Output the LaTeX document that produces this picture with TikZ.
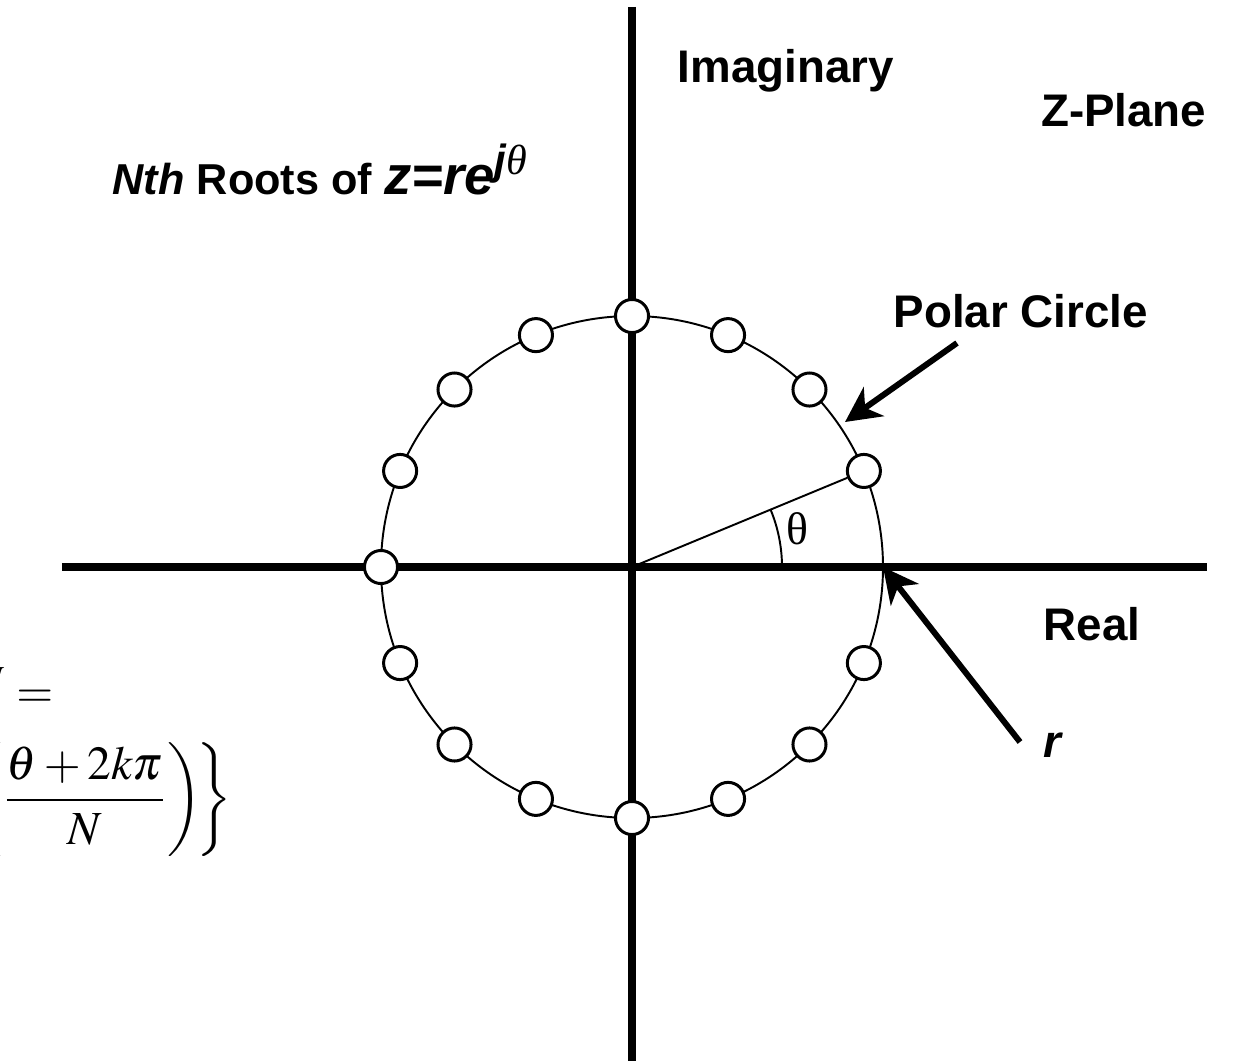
\documentclass[tikz,border=0pt]{standalone}
\usepackage{amsmath}
\usepackage{mathptmx}
\usepackage[no-math]{fontspec}
\setmainfont{Liberation Sans}
\newfontfamily\timesfont{Liberation Serif}
\usepackage{tikz}
\usetikzlibrary{arrows.meta}

\begin{document}
\begin{tikzpicture}[
    x=0.01cm, y=0.01cm,
    axis/.style={line width=2pt},
    thinline/.style={line width=0.55pt},
    root/.style={circle, draw, line width=0.85pt, fill=white, minimum size=9.4pt, inner sep=0pt},
    lbl/.style={font=\fontsize{13}{15}\selectfont\bfseries, inner sep=0pt, #1},
    lbl/.default={anchor=base west},
    callout/.style={-{Stealth[length=10pt,width=10pt,inset=3pt]}, line width=1.7pt},
    formula/.style={font=\fontsize{13.5}{16}\selectfont, inner sep=0pt, anchor=east},
]
\useasboundingbox (-632,-493) rectangle (617,567);

\coordinate (o) at (0,0);
\coordinate (xl) at (-570,0);
\coordinate (xr) at (575,0);
\coordinate (yt) at (0,560);
\coordinate (yb) at (0,-500);

% polar circle and axes
\draw[thinline] (o) circle[radius=251];
\draw[axis] (xl) -- (xr);
\draw[axis] (yt) -- (yb);

% roots
\node[root] (root1) at (22.5:251) {};
\node[root] (root2) at (45:251) {};
\node[root] (root3) at (67.5:251) {};
\node[root] (root4) at (90:251) {};
\node[root] (root5) at (112.5:251) {};
\node[root] (root6) at (135:251) {};
\node[root] (root7) at (157.5:251) {};
\node[root] (root8) at (180:251) {};
\node[root] (root9) at (202.5:251) {};
\node[root] (root10) at (225:251) {};
\node[root] (root11) at (247.5:251) {};
\node[root] (root12) at (270:251) {};
\node[root] (root13) at (292.5:251) {};
\node[root] (root14) at (315:251) {};
\node[root] (root15) at (337.5:251) {};

% angle
\draw[thinline] (o) -- (root1);
\draw[thinline] (150,0) arc[start angle=0, end angle=22.5, radius=150];
\node[font=\fontsize{13}{15}\selectfont\timesfont, inner sep=0pt] (theta) at (165,38) {θ};

% ===== LABELS =====
\node[lbl] (imag) at (45,485) {Imaginary};
\node[lbl={anchor=base east}] (zplane) at (575,441) {Z-Plane};
\node[lbl] (polar) at (261,240) {Polar Circle};
\node[lbl] (real) at (411,-73) {Real};
\node[lbl] (rlbl) at (411,-190) {\itshape r};
\node[lbl={anchor=base west, font=\fontsize{12.3}{15}\selectfont\bfseries}] (title) at (-520,373) {\itshape Nth\upshape{} Roots of {\fontsize{15.5}{18}\selectfont\itshape z=re\textsuperscript{\fontsize{12}{14}\selectfont j{\timesfont\mdseries θ}}}};

\node[formula] (eqtop) at (-578,-121) {$z^{1/N} =$};
\node[formula] (eqbot) at (-399,-233) {$\displaystyle r^{1/N}\exp\left\{j\left(\frac{\theta+2k\pi}{N}\right)\!\right\}$};

% ===== ARROWS =====
\coordinate (polartail) at (325,224);
\coordinate (polartip) at (213,145);
\coordinate (rtail) at (388,-175);
\coordinate (rtip) at (0:251);
\draw[callout] (polartail) -- (polartip);
\draw[callout] (rtail) -- (rtip);

\end{tikzpicture}
\end{document}
